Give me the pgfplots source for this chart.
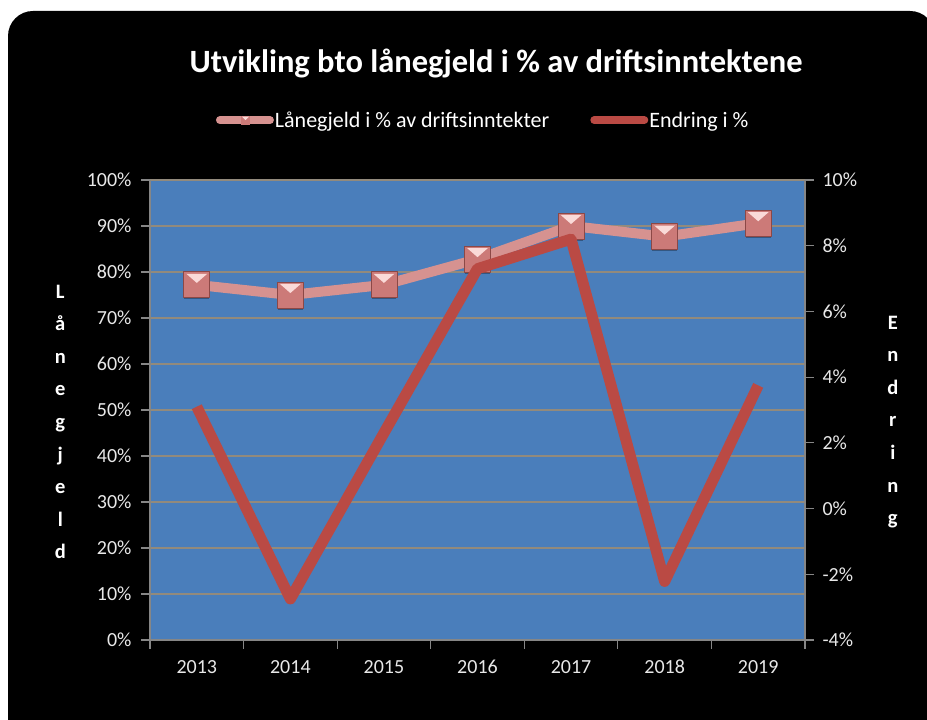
\documentclass[border=0pt]{standalone}
\usepackage{pgfplots}
\pgfplotsset{compat=1.18}
\usepackage{fontspec}
\setmainfont{Carlito}

\definecolor{plotblue}{RGB}{74,126,187}
\definecolor{gridgray}{RGB}{146,138,124}
\definecolor{axisgray}{RGB}{134,134,134}
\definecolor{ticktext}{RGB}{232,232,232}
\definecolor{pinkline}{RGB}{214,146,144}
\definecolor{redline}{RGB}{186,74,68}
\definecolor{mkface}{RGB}{204,122,120}
\definecolor{mkedge}{RGB}{140,72,70}
\definecolor{mklight}{RGB}{250,218,216}

% bevelled square marker
\pgfdeclareplotmark{bevsq}{%
  \pgfsetlinewidth{0.8pt}%
  \pgfsetfillopacity{0.3}\pgfsetfillcolor{black}%
  \pgfpathrectangle{\pgfpoint{-0.95\pgfplotmarksize}{-1.12\pgfplotmarksize}}{\pgfpoint{1.9\pgfplotmarksize}{1.9\pgfplotmarksize}}%
  \pgfusepath{fill}%
  \pgfsetfillopacity{1}%
  \pgfsetfillcolor{mkface}\pgfsetstrokecolor{mkedge}%
  \pgfpathrectangle{\pgfpoint{-\pgfplotmarksize}{-\pgfplotmarksize}}{\pgfpoint{2\pgfplotmarksize}{2\pgfplotmarksize}}%
  \pgfusepath{fill,stroke}%
  \pgfsetfillcolor{mklight}%
  \pgfpathmoveto{\pgfpoint{-0.8\pgfplotmarksize}{0.85\pgfplotmarksize}}%
  \pgfpathlineto{\pgfpoint{0.8\pgfplotmarksize}{0.85\pgfplotmarksize}}%
  \pgfpathlineto{\pgfpoint{0pt}{0.15\pgfplotmarksize}}%
  \pgfpathclose
  \pgfusepath{fill}%
}

\begin{document}
\begin{tikzpicture}
\useasboundingbox (0,0) rectangle (927pt,720pt);
\fill[white] (0,0) rectangle (927pt,720pt);
\fill[black, rounded corners=25pt] (8pt,-30pt) rectangle (935pt,709pt);
\node[anchor=base, text=white, font=\fontsize{32.5}{38}\selectfont\bfseries]
  at (496pt,647pt) {Utvikling bto lånegjeld i \% av driftsinntektene};

\begin{axis}[
  at={(150pt,80pt)}, anchor=south west,
  scale only axis, width=655pt, height=460pt,
  xmin=-0.5, xmax=6.5, ymin=0, ymax=100,
  axis x line*=bottom, axis y line*=left,
  axis line style={draw=axisgray, line width=1.2pt},
  axis background/.style={fill=plotblue},
  xtick={0,1,2,3,4,5,6},
  xticklabels={2013,2014,2015,2016,2017,2018,2019},
  major x tick style={draw=none},
  minor xtick={-0.5,0.5,1.5,2.5,3.5,4.5,5.5,6.5},
  minor x tick style={draw=axisgray, line width=1.2pt},
  ytick={0,10,20,30,40,50,60,70,80,90,100},
  yticklabels={0\%,10\%,20\%,30\%,40\%,50\%,60\%,70\%,80\%,90\%,100\%},
  major y tick style={draw=axisgray, line width=1.2pt},
  tick align=outside, major tick length=9pt, minor tick length=9pt,
  ymajorgrids, grid style={draw=gridgray, line width=1.4pt},
  tick label style={font=\fontsize{20}{24}\selectfont, text=ticktext},
  x tick label style={text height=13pt, text depth=0pt, yshift=-8pt},
  y tick label style={xshift=-6pt},
  /pgf/number format/assume math mode=true,
  ylabel={L\\å\\n\\e\\g\\j\\e\\l\\d},
  every axis y label/.style={at={(axis description cs:-0.137,0.474)}, anchor=center,
    align=center, text=white, font=\fontsize{20.5}{32.6}\selectfont\bfseries},
  legend columns=2,
  legend style={at={(axis description cs:0.508,1.13)}, anchor=center,
    draw=none, fill=none, text=white, font=\fontsize{22}{26}\selectfont,
    nodes={inner xsep=1pt},
    /tikz/every even column/.append style={column sep=40pt}},
]
\addplot[color=pinkline, line width=10pt, line join=round, mark=bevsq, mark size=13pt,
  legend image code/.code={
    \draw[pinkline, line width=8pt, line cap=round] (4pt,0pt) -- (54pt,0pt);
    \path[fill=mkface, draw=none] (25pt,-4.5pt) rectangle (34pt,4.5pt);
    \path[fill=mklight, draw=none] (26pt,3.5pt) -- (33pt,3.5pt) -- (29.5pt,0pt) -- cycle;}]
  coordinates {(0,77.2) (1,75.0) (2,77.2) (3,82.8) (4,90.0) (5,87.7) (6,90.6)};
\addlegendentry{Lånegjeld i \% av driftsinntekter}
\addlegendimage{legend image code/.code={
    \draw[redline, line width=8pt, line cap=round] (4pt,0pt) -- (54pt,0pt);}}
\addlegendentry{Endring i \%}
\end{axis}

\begin{axis}[
  at={(150pt,80pt)}, anchor=south west,
  scale only axis, width=655pt, height=460pt,
  xmin=-0.5, xmax=6.5, ymin=-4, ymax=10,
  hide x axis, axis y line*=right,
  axis line style={draw=axisgray, line width=1.2pt},
  ytick={-4,-2,0,2,4,6,8,10},
  yticklabels={-4\%,-2\%,0\%,2\%,4\%,6\%,8\%,10\%},
  major y tick style={draw=axisgray, line width=1.2pt},
  tick align=outside, major tick length=9pt,
  tick label style={font=\fontsize{20}{24}\selectfont, text=ticktext},
  y tick label style={xshift=5pt},
  /pgf/number format/assume math mode=true,
  ylabel={E\\n\\d\\r\\i\\n\\g},
  every axis y label/.style={at={(axis description cs:1.134,0.474)}, anchor=center,
    align=center, text=white, font=\fontsize{20.5}{32.6}\selectfont\bfseries},
]
\addplot[color=redline, line width=11pt, line join=round]
  coordinates {(0,3.1) (1,-2.75) (2,2.3) (3,7.3) (4,8.2) (5,-2.22) (6,3.75)};
\end{axis}
\end{tikzpicture}
\end{document}
